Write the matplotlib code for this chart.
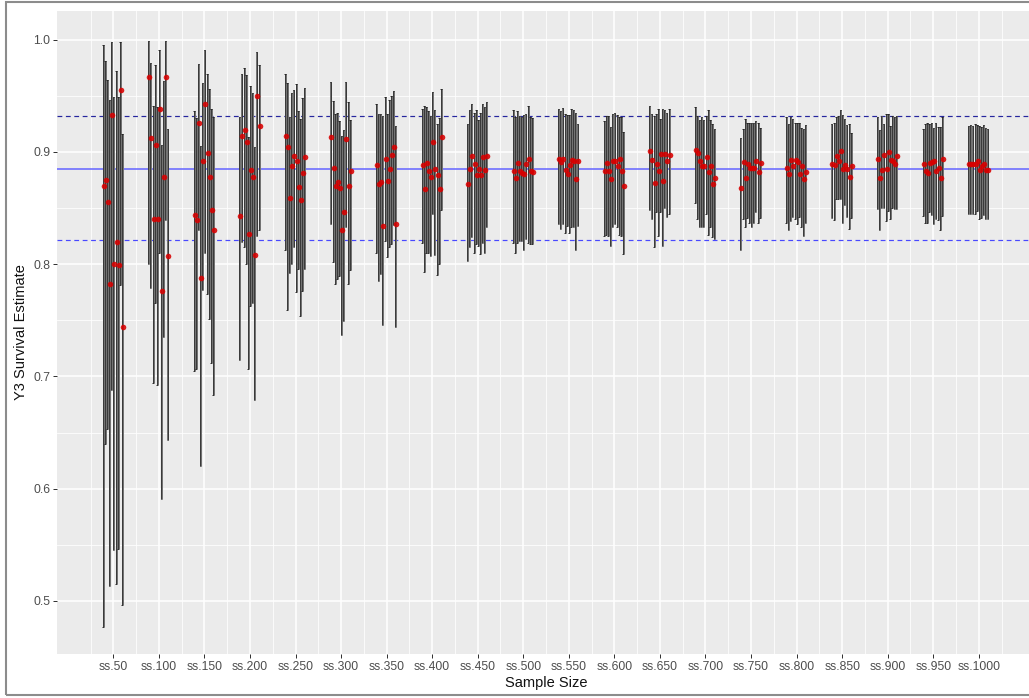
import matplotlib
matplotlib.use("Agg")
import matplotlib.pyplot as plt
from matplotlib.patches import Rectangle
import numpy as np

# Sample sizes (x positions) and their axis labels
sample_sizes = list(range(50, 1001, 50))
size_labels = [f"ss.{n}" for n in sample_sizes]

# Year-3 survival point estimates, 10 replicates per sample size
estimate = [
    [0.870, 0.875, 0.855, 0.782, 0.933, 0.800, 0.820, 0.799, 0.955, 0.744],
    [0.967, 0.912, 0.840, 0.906, 0.840, 0.938, 0.776, 0.878, 0.967, 0.807],
    [0.844, 0.839, 0.926, 0.788, 0.892, 0.943, 0.899, 0.878, 0.848, 0.830],
    [0.843, 0.914, 0.919, 0.909, 0.827, 0.884, 0.878, 0.808, 0.950, 0.923],
    [0.914, 0.904, 0.859, 0.887, 0.896, 0.892, 0.869, 0.857, 0.881, 0.895],
    [0.913, 0.886, 0.870, 0.873, 0.868, 0.830, 0.846, 0.911, 0.870, 0.883],
    [0.888, 0.871, 0.873, 0.834, 0.894, 0.874, 0.885, 0.897, 0.904, 0.836],
    [0.888, 0.867, 0.890, 0.883, 0.878, 0.909, 0.885, 0.879, 0.867, 0.913],
    [0.871, 0.885, 0.896, 0.889, 0.879, 0.885, 0.879, 0.895, 0.884, 0.896],
    [0.883, 0.877, 0.890, 0.883, 0.881, 0.880, 0.889, 0.894, 0.883, 0.882],
    [0.894, 0.891, 0.894, 0.884, 0.880, 0.888, 0.893, 0.892, 0.876, 0.892],
    [0.883, 0.890, 0.883, 0.876, 0.892, 0.892, 0.887, 0.894, 0.883, 0.870],
    [0.901, 0.893, 0.872, 0.889, 0.883, 0.898, 0.874, 0.898, 0.892, 0.897],
    [0.902, 0.899, 0.892, 0.887, 0.887, 0.895, 0.882, 0.887, 0.871, 0.877],
    [0.868, 0.891, 0.877, 0.889, 0.886, 0.886, 0.886, 0.892, 0.882, 0.890],
    [0.886, 0.880, 0.893, 0.887, 0.893, 0.891, 0.880, 0.887, 0.876, 0.882],
    [0.889, 0.888, 0.896, 0.892, 0.901, 0.885, 0.888, 0.885, 0.878, 0.887],
    [0.894, 0.877, 0.884, 0.897, 0.885, 0.900, 0.893, 0.892, 0.889, 0.896],
    [0.889, 0.883, 0.881, 0.890, 0.891, 0.892, 0.883, 0.886, 0.877, 0.894],
    [0.889, 0.889, 0.889, 0.889, 0.892, 0.884, 0.887, 0.889, 0.884, 0.884],
]

# Upper confidence limits
upper = [
    [0.995, 0.981, 0.964, 0.946, 0.998, 0.949, 0.972, 0.949, 0.998, 0.916],
    [0.999, 0.979, 0.941, 0.977, 0.940, 0.991, 0.906, 0.963, 0.999, 0.920],
    [0.936, 0.930, 0.978, 0.905, 0.961, 0.991, 0.969, 0.956, 0.938, 0.931],
    [0.931, 0.969, 0.975, 0.968, 0.913, 0.959, 0.952, 0.904, 0.989, 0.977],
    [0.969, 0.961, 0.931, 0.952, 0.955, 0.960, 0.936, 0.929, 0.948, 0.957],
    [0.962, 0.945, 0.934, 0.935, 0.927, 0.914, 0.919, 0.962, 0.944, 0.928],
    [0.943, 0.934, 0.934, 0.932, 0.949, 0.934, 0.946, 0.950, 0.954, 0.923],
    [0.938, 0.941, 0.940, 0.936, 0.932, 0.953, 0.937, 0.925, 0.930, 0.956],
    [0.925, 0.937, 0.943, 0.935, 0.937, 0.928, 0.935, 0.943, 0.940, 0.944],
    [0.937, 0.931, 0.936, 0.932, 0.931, 0.933, 0.934, 0.941, 0.931, 0.930],
    [0.938, 0.936, 0.939, 0.934, 0.933, 0.933, 0.938, 0.937, 0.935, 0.925],
    [0.927, 0.932, 0.932, 0.922, 0.934, 0.935, 0.933, 0.931, 0.931, 0.918],
    [0.941, 0.934, 0.932, 0.934, 0.938, 0.929, 0.938, 0.937, 0.935, 0.938],
    [0.940, 0.932, 0.928, 0.931, 0.928, 0.932, 0.937, 0.928, 0.925, 0.920],
    [0.912, 0.920, 0.929, 0.926, 0.926, 0.926, 0.926, 0.927, 0.926, 0.921],
    [0.931, 0.925, 0.931, 0.929, 0.926, 0.926, 0.926, 0.921, 0.920, 0.924],
    [0.925, 0.926, 0.931, 0.932, 0.937, 0.933, 0.929, 0.924, 0.925, 0.917],
    [0.931, 0.919, 0.932, 0.925, 0.934, 0.934, 0.923, 0.932, 0.931, 0.932],
    [0.920, 0.925, 0.926, 0.925, 0.926, 0.921, 0.926, 0.922, 0.922, 0.931],
    [0.923, 0.924, 0.923, 0.925, 0.924, 0.923, 0.922, 0.924, 0.921, 0.920],
]

# Lower confidence limits
lower = [
    [0.477, 0.640, 0.653, 0.513, 0.688, 0.545, 0.515, 0.546, 0.781, 0.496],
    [0.800, 0.779, 0.694, 0.765, 0.692, 0.810, 0.591, 0.735, 0.839, 0.643],
    [0.705, 0.707, 0.830, 0.620, 0.777, 0.810, 0.773, 0.751, 0.712, 0.683],
    [0.715, 0.820, 0.815, 0.800, 0.707, 0.763, 0.765, 0.679, 0.825, 0.830],
    [0.813, 0.759, 0.792, 0.800, 0.815, 0.775, 0.796, 0.754, 0.776, 0.796],
    [0.836, 0.802, 0.782, 0.787, 0.789, 0.737, 0.749, 0.833, 0.782, 0.795],
    [0.810, 0.785, 0.791, 0.746, 0.821, 0.806, 0.815, 0.818, 0.835, 0.744],
    [0.819, 0.793, 0.810, 0.810, 0.807, 0.845, 0.808, 0.790, 0.800, 0.848],
    [0.803, 0.815, 0.824, 0.810, 0.818, 0.816, 0.809, 0.819, 0.810, 0.833],
    [0.819, 0.810, 0.819, 0.821, 0.821, 0.813, 0.822, 0.819, 0.818, 0.818],
    [0.836, 0.831, 0.836, 0.828, 0.834, 0.828, 0.833, 0.833, 0.813, 0.834],
    [0.825, 0.826, 0.825, 0.816, 0.833, 0.836, 0.833, 0.826, 0.825, 0.809],
    [0.848, 0.840, 0.815, 0.846, 0.825, 0.846, 0.816, 0.850, 0.842, 0.845],
    [0.854, 0.840, 0.833, 0.833, 0.833, 0.845, 0.826, 0.833, 0.824, 0.822],
    [0.813, 0.840, 0.833, 0.841, 0.837, 0.833, 0.837, 0.846, 0.837, 0.841],
    [0.837, 0.830, 0.838, 0.842, 0.840, 0.836, 0.842, 0.833, 0.825, 0.837],
    [0.841, 0.839, 0.858, 0.858, 0.858, 0.837, 0.853, 0.842, 0.831, 0.841],
    [0.849, 0.830, 0.850, 0.850, 0.838, 0.847, 0.840, 0.850, 0.849, 0.849],
    [0.843, 0.837, 0.837, 0.846, 0.844, 0.836, 0.840, 0.839, 0.830, 0.843],
    [0.845, 0.845, 0.845, 0.845, 0.847, 0.840, 0.841, 0.844, 0.840, 0.840],
]

# Reference survival value and its band
true_value = 0.8847
band_upper = 0.932
band_lower = 0.8217

W, H, DPI = 1029, 698, 100
fig = plt.figure(figsize=(W / DPI, H / DPI), dpi=DPI)
fig.patch.set_facecolor("white")

# outer window frame
fig.add_artist(Rectangle((6 / W, 3 / H), 1.2, (696 - 3) / H, transform=fig.transFigure,
                         fill=False, edgecolor="#8c8c8c", linewidth=1.5, clip_on=False))

px = 72 / DPI  # points per pixel
left, right, top, bottom = 57, 1036, 11, 654
ax = fig.add_axes([left / W, (H - bottom) / H, (right - left) / W, (bottom - top) / H])
ax.set_facecolor("#EBEBEB")
for s in ax.spines.values():
    s.set_visible(False)

ax.set_xlim(-11.8, 1062.8)
ax.set_ylim(0.4528, 1.0254)

ax.set_xticks(sample_sizes)
ax.set_xticklabels(size_labels)
ax.set_xticks(np.arange(25, 1030, 50), minor=True)
ax.set_yticks([0.5, 0.6, 0.7, 0.8, 0.9, 1.0])
ax.set_yticklabels(["0.5", "0.6", "0.7", "0.8", "0.9", "1.0"])
ax.set_yticks([0.55, 0.65, 0.75, 0.85, 0.95], minor=True)
ax.grid(which="major", color="white", linewidth=1.5 * px)
ax.grid(which="minor", color="white", linewidth=0.8 * px)
ax.set_axisbelow(True)

font = "Liberation Sans"
ax.tick_params(which="major", length=3.7 * px, width=1.0 * px, color="#333333",
               labelsize=8.7, labelcolor="#4D4D4D", pad=2.2)
ax.tick_params(which="minor", length=0)
for lab in ax.get_xticklabels() + ax.get_yticklabels():
    lab.set_fontfamily(font)

ax.set_xlabel("Sample Size", fontsize=10.5, fontfamily=font, color="#111111", labelpad=2)
ax.set_ylabel("Y3 Survival Estimate", fontsize=10.5, fontfamily=font, color="#111111", labelpad=4)

# reference lines
ax.axhline(true_value, color="#6a6aff", linewidth=1.6 * px, zorder=1.5)
ax.axhline(band_upper, color="#26269e", linewidth=1.2 * px, linestyle=(0, (4, 3)), zorder=1.5)
ax.axhline(band_lower, color="#4848ff", linewidth=1.2 * px, linestyle=(0, (4, 3)), zorder=1.5)

# dodged intervals and estimates
dodge = 2.35
offsets = (np.arange(10) - 4.5) * dodge
xs, est_all, lo_all, hi_all = [], [], [], []
for n, est, lo, hi in zip(sample_sizes, estimate, lower, upper):
    xs.extend(n + offsets)
    est_all.extend(est)
    lo_all.extend(lo)
    hi_all.extend(hi)
xs = np.array(xs)
est_all = np.array(est_all)
lo_all = np.array(lo_all)
hi_all = np.array(hi_all)

ax.vlines(xs, lo_all, hi_all, color="#737373", linewidth=2.0 * px, zorder=2)
ax.vlines(xs - 1.0, lo_all, hi_all, color="#151515", linewidth=0.6 * px, zorder=2.1)
cap = 1.7
ax.hlines(hi_all, xs - cap, xs, color="#222222", linewidth=0.9 * px, zorder=2.2)
ax.hlines(lo_all, xs - cap, xs, color="#222222", linewidth=0.9 * px, zorder=2.2)

ax.scatter(xs, est_all, s=(5.6 * px) ** 2, color="#d80000", alpha=0.88,
           linewidths=0, zorder=3)

fig.savefig("out.png", dpi=DPI, facecolor="white")
